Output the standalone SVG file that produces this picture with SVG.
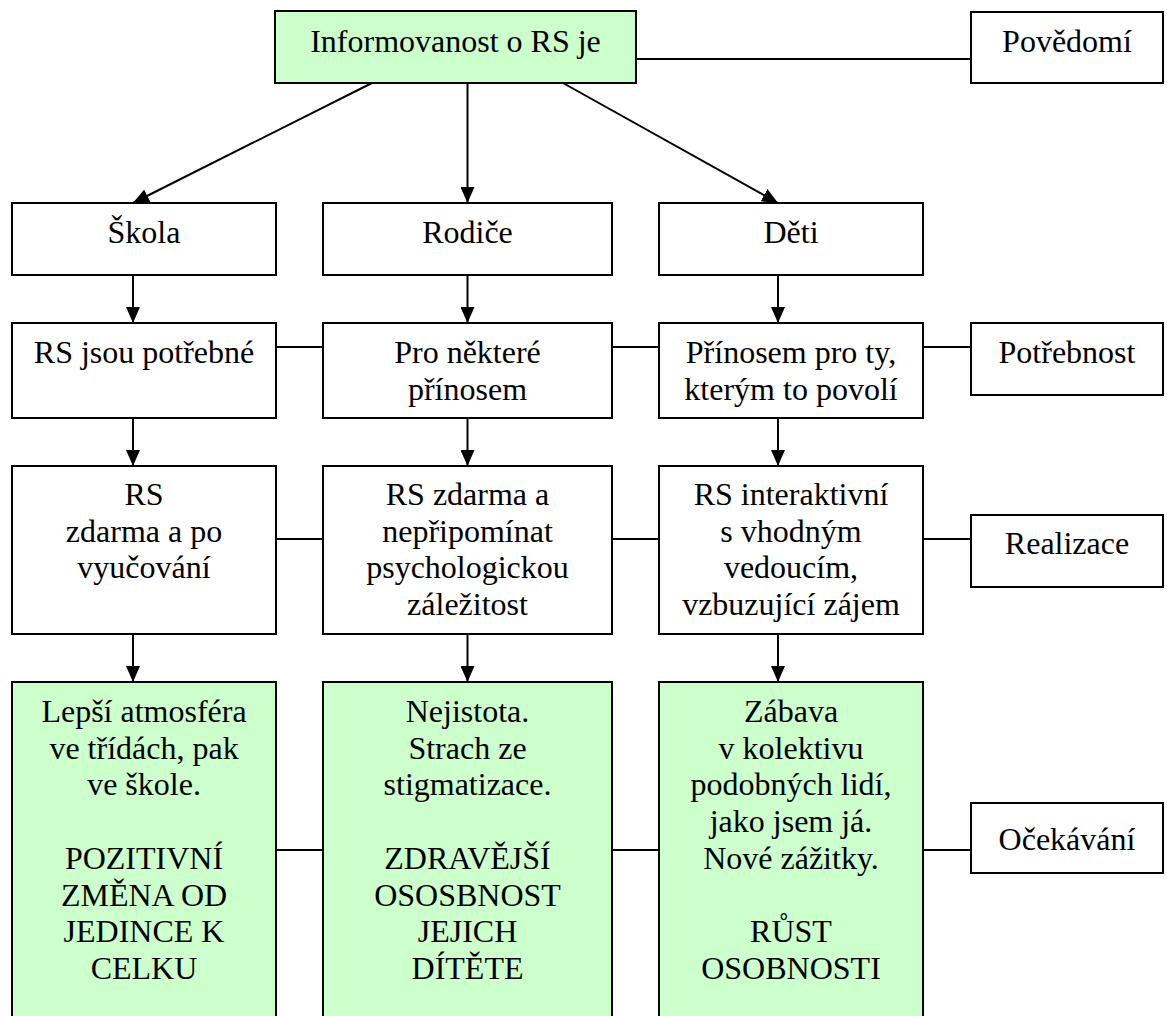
<svg xmlns="http://www.w3.org/2000/svg" width="1167" height="1016" viewBox="0 0 1167 1016">
<style>
.box{fill:#ffffff;stroke:#000;stroke-width:2}
.green{fill:#ccffcc;stroke:#000;stroke-width:2}
.ln{stroke:#000;stroke-width:2;fill:none}
.ar{stroke:#000;stroke-width:2;fill:none;marker-end:url(#ah)}
</style>
<defs>
<marker id="ah" markerUnits="userSpaceOnUse" markerWidth="16" markerHeight="14" refX="16" refY="7" orient="auto">
<path d="M0,0 L16,7 L0,14 z" fill="#000"/>
</marker>
</defs>
<rect width="1167" height="1016" fill="#fff"/>
<g id="connectors">
<line class="ln" x1="636" y1="59" x2="971" y2="59"/>
<line class="ar" x1="372" y1="83" x2="133" y2="203"/>
<line class="ar" x1="467.5" y1="83" x2="467.5" y2="203"/>
<line class="ar" x1="563" y1="83" x2="778" y2="203"/>
<line class="ar" x1="133" y1="275" x2="133" y2="323"/>
<line class="ar" x1="467.5" y1="275" x2="467.5" y2="323"/>
<line class="ar" x1="778" y1="275" x2="778" y2="323"/>
<line class="ar" x1="133" y1="418" x2="133" y2="466"/>
<line class="ar" x1="467.5" y1="418" x2="467.5" y2="466"/>
<line class="ar" x1="778" y1="418" x2="778" y2="466"/>
<line class="ar" x1="133" y1="634" x2="133" y2="682"/>
<line class="ar" x1="467.5" y1="634" x2="467.5" y2="682"/>
<line class="ar" x1="778" y1="634" x2="778" y2="682"/>
<line class="ln" x1="276" y1="347" x2="323" y2="347"/>
<line class="ln" x1="612" y1="347" x2="659" y2="347"/>
<line class="ln" x1="923" y1="347" x2="971" y2="347"/>
<line class="ln" x1="276" y1="539" x2="323" y2="539"/>
<line class="ln" x1="612" y1="539" x2="659" y2="539"/>
<line class="ln" x1="923" y1="539" x2="971" y2="539"/>
<line class="ln" x1="276" y1="850" x2="323" y2="850"/>
<line class="ln" x1="612" y1="850" x2="659" y2="850"/>
<line class="ln" x1="923" y1="850" x2="971" y2="850"/>
</g>
<g font-family="Times New Roman, Liberation Serif, serif" font-size="32" text-anchor="middle" fill="#000">
<g id="n-top"><rect class="green" x="275" y="11" width="361" height="72"/><text x="455.5" y="52">Informovanost o RS je</text></g>
<g id="n-povedomi"><rect class="box" x="971" y="12" width="192" height="71"/><text x="1067" y="52">Povědomí</text></g>
<g id="n-skola"><rect class="box" x="12" y="203" width="264" height="72"/><text x="144" y="243">Škola</text></g>
<g id="n-rodice"><rect class="box" x="323" y="203" width="289" height="72"/><text x="467.5" y="243">Rodiče</text></g>
<g id="n-deti"><rect class="box" x="659" y="203" width="264" height="72"/><text x="791" y="243">Děti</text></g>
<g id="n-potrebne"><rect class="box" x="12" y="323" width="264" height="95"/><text x="144" y="363">RS jsou potřebné</text></g>
<g id="n-nektere"><rect class="box" x="323" y="323" width="289" height="95"/><text x="467.5" y="363">Pro některé</text><text x="467.5" y="400">přínosem</text></g>
<g id="n-prinosem"><rect class="box" x="659" y="323" width="264" height="95"/><text x="791" y="363">Přínosem pro ty,</text><text x="791" y="400">kterým to povolí</text></g>
<g id="n-potrebnost"><rect class="box" x="971" y="323" width="192" height="72"/><text x="1067" y="363">Potřebnost</text></g>
<g id="n-rs1"><rect class="box" x="12" y="466" width="264" height="168"/><text x="144" y="505">RS</text><text x="144" y="542">zdarma a po</text><text x="144" y="578">vyučování</text></g>
<g id="n-rs2"><rect class="box" x="323" y="466" width="289" height="168"/><text x="467.5" y="505">RS zdarma a</text><text x="467.5" y="542">nepřipomínat</text><text x="467.5" y="578">psychologickou</text><text x="467.5" y="615">záležitost</text></g>
<g id="n-rs3"><rect class="box" x="659" y="466" width="264" height="168"/><text x="791" y="505">RS interaktivní</text><text x="791" y="542">s vhodným</text><text x="791" y="578">vedoucím,</text><text x="791" y="615">vzbuzující zájem</text></g>
<g id="n-realizace"><rect class="box" x="971" y="515" width="192" height="72"/><text x="1067" y="554">Realizace</text></g>
<g id="n-e1"><rect class="green" x="12" y="682" width="264" height="340"/>
<text x="144" y="722">Lepší atmosféra</text><text x="144" y="758.7">ve třídách, pak</text><text x="144" y="795.4">ve škole.</text>
<text x="144" y="868.8">POZITIVNÍ</text><text x="144" y="905.5">ZMĚNA OD</text><text x="144" y="942.2">JEDINCE K</text><text x="144" y="978.9">CELKU</text></g>
<g id="n-e2"><rect class="green" x="323" y="682" width="289" height="340"/>
<text x="467.5" y="722">Nejistota.</text><text x="467.5" y="758.7">Strach ze</text><text x="467.5" y="795.4">stigmatizace.</text>
<text x="467.5" y="868.8">ZDRAVĚJŠÍ</text><text x="467.5" y="905.5">OSOSBNOST</text><text x="467.5" y="942.2">JEJICH</text><text x="467.5" y="978.9">DÍTĚTE</text></g>
<g id="n-e3"><rect class="green" x="659" y="682" width="264" height="340"/>
<text x="791" y="722">Zábava</text><text x="791" y="758.7">v kolektivu</text><text x="791" y="795.4">podobných lidí,</text><text x="791" y="832">jako jsem já.</text><text x="791" y="868.8">Nové zážitky.</text>
<text x="791" y="942.2">RŮST</text><text x="791" y="978.9">OSOBNOSTI</text></g>
<g id="n-ocekavani"><rect class="box" x="971" y="803" width="192" height="70"/><text x="1067" y="850">Očekávání</text></g>
</g>
</svg>
